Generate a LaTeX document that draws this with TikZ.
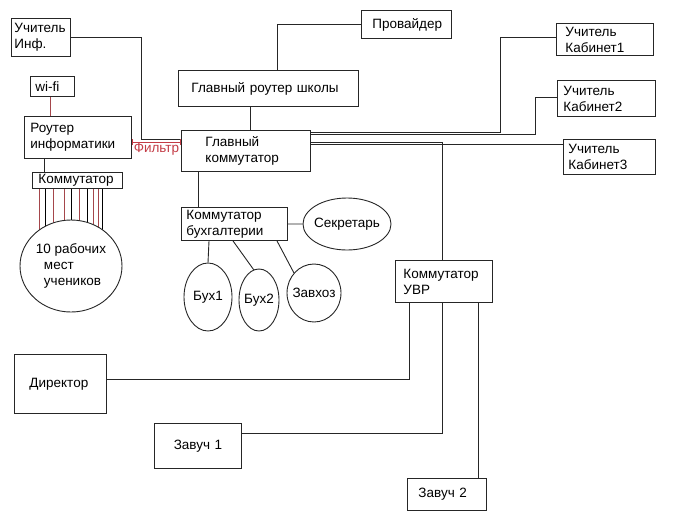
\documentclass[tikz,border=0pt]{standalone}
\usepackage{fontspec}
\setmainfont{Liberation Sans}
\usepackage{tikz}
\usetikzlibrary{shapes.geometric, arrows.meta, backgrounds, positioning}
\definecolor{lanred}{RGB}{165,70,75}
\definecolor{filterred}{RGB}{195,60,70}

\begin{document}
\begin{tikzpicture}[x=1pt, y=-1pt,
    box/.style={draw=black!85, line width=0.9pt, anchor=north west, align=left,
      inner ysep=0pt, font=\fontsize{13.5}{16}\selectfont},
    pc/.style={draw=black!85, line width=0.9pt, ellipse, inner xsep=-12pt,
      inner ysep=0pt, font=\fontsize{13.5}{16}\selectfont},
    link/.style={draw=black!85, line width=0.9pt},
    filter/.style={draw=filterred, line width=0.9pt, {Bar[width=6pt]}-{Bar[width=6pt]}}]
  \useasboundingbox (0,0) rectangle (700,525);

  \node[box, text width=53pt, inner xsep=3pt, minimum height=38pt] (uinf) at (11,18) {Учитель\\Инф.};
  \node[box, text width=34pt, inner xsep=5pt, minimum height=20pt] (wifi) at (30,76) {wi-fi};
  \node[box, text width=95pt, inner xsep=6pt, minimum height=42pt] (rinf) at (24,116) {Роутер\\информатики};
  \node[box, text width=78pt, inner xsep=6pt, minimum height=16pt] (kinf) at (32,172) {Коммутатор};
  \node[box, text width=154pt, inner xsep=13pt, minimum height=36pt] (grs) at (178,70) {Главный роутер школы};
  \node[box, text width=81pt, inner xsep=24pt, minimum height=41pt] (gk) at (181,130) {Главный\\коммутатор};
  \node[box, text width=68pt, inner xsep=11pt, minimum height=28pt] (prov) at (361,10) {Провайдер};
  \node[box, text width=79pt, inner xsep=9pt, minimum height=32pt] (kab1) at (556,23) {Учитель\\Кабинет1};
  \node[box, text width=86pt, inner xsep=6pt, minimum height=36pt] (kab2) at (557,80) {Учитель\\Кабинет2};
  \node[box, text width=82pt, inner xsep=5pt, minimum height=35pt] (kab3) at (563,139) {Учитель\\Кабинет3};
  \node[box, text width=96pt, inner xsep=5pt, minimum height=33pt] (kbuh) at (181,207) {Коммутатор\\бухгалтерии};
  \node[box, text width=81pt, inner xsep=8pt, minimum height=42pt] (kuvr) at (395,260) {Коммутатор\\УВР};
  \node[box, text width=62pt, inner xsep=15pt, minimum height=59pt] (dir) at (14,354) {Директор};
  \node[box, text width=87pt, inner xsep=0pt, minimum height=45pt, align=center] (zav1) at (154,423) {Завуч 1};
  \node[box, text width=57pt, inner xsep=11pt, minimum height=32pt] (zav2) at (407,478) {Завуч 2};

  \node[pc, minimum width=88pt, minimum height=52pt] (sekr) at (347,224) {Секретарь};
  \node[pc, minimum width=48pt, minimum height=68pt] (buh1) at (208,297) {Бух1};
  \node[pc, minimum width=40pt, minimum height=62pt] (buh2) at (259,300) {Бух2};
  \node[pc, minimum width=54pt, minimum height=58pt] (zavh) at (314,293) {Завхоз};
  \node[pc, fill=white, minimum width=102pt, minimum height=92pt, align=left] (stud) at (71,266)
    {10 рабочих\\\hspace*{8pt}мест\\\hspace*{8pt}учеников};

  \draw[link] (uinf.east) -| (141,139) -- (gk.west |- 0,139);
  \draw[filter] (rinf.east |- 0,142) -- (gk.west |- 0,142)
    node[midway, below=1pt, inner sep=0pt, text=filterred, font=\fontsize{13.5}{16}\selectfont] (filt) {Фильтр};
  \draw[lanred, line width=0.7pt] (wifi.south -| 50,0) -- (rinf.north -| 50,0);
  \draw[link] (rinf.south -| 44,0) -- (kinf.north -| 44,0);
  \begin{scope}[on background layer]
    \foreach \x/\c in {39/lanred, 45/black, 53/lanred, 64/lanred, 71/black, 79/lanred, 87/black, 93/lanred, 98/lanred, 102/black}
      \draw[\c, line width=0.7pt] (kinf.south -| \x,0) -- (stud.center -| \x,0);
  \end{scope}

  \draw[link] (grs.south -| 250,0) -- (gk.north -| 250,0);
  \draw[link] (grs.north -| 277,0) |- (prov.west);
  \draw[link] (gk.east |- 0,132) -| (500,37) -- (kab1.west |- 0,37);
  \draw[link] (gk.east |- 0,134) -| (535,97) -- (kab2.west |- 0,97);
  \draw[link] (gk.east |- 0,144) -- (kab3.west |- 0,144);
  \draw[link] (gk.east |- 0,142) -| (kuvr.north -| 442,0);
  \draw[link] (kuvr.south -| 442,0) |- (zav1.east |- 0,433);
  \draw[link] (kuvr.south -| 409,0) |- (dir.east |- 0,379);
  \draw[link] (kuvr.south -| 478,0) -- (zav2.north -| 478,0);

  \draw[link] (gk.south -| 198,0) -- (kbuh.north -| 198,0);
  \draw[link] (kbuh.east) -- (sekr.west);
  \draw[link] (kbuh.south -| 209,0) -- (buh1.north);
  \draw[link] (kbuh.south -| 233,0) -- (buh2.100);
  \draw[link] (kbuh.south -| 277,0) -- (zavh.135);
\end{tikzpicture}
\end{document}
